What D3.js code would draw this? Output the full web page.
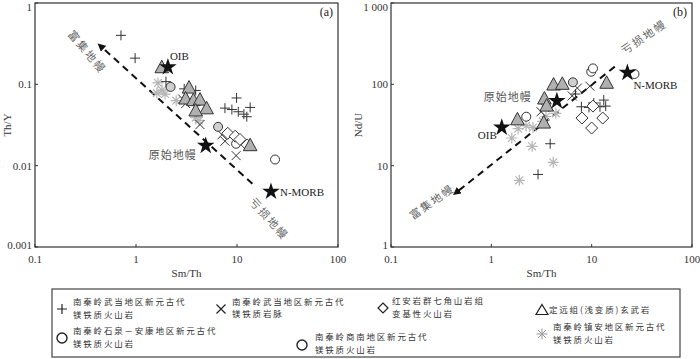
<!DOCTYPE html>
<html>
<head>
<meta charset="utf-8">
<script src="https://cdn.jsdelivr.net/npm/d3@7"></script>
<style>
  body { margin: 0; background: #fff; }
  svg { display: block; font-family: "Liberation Serif", "Noto Sans CJK SC", serif; }
  .tick-label { font-size: 11px; fill: #333; }
  .cn { font-family: "Noto Sans CJK SC", sans-serif; }
</style>
</head>
<body>
<div id="chart"></div>
<script>
// legend categories
var seriesNames = [
  ["南秦岭武当地区新元古代", "镁铁质火山岩"],
  ["南秦岭武当地区新元古代", "镁铁质岩脉"],
  ["红安岩群七角山岩组", "变基性火山岩"],
  ["定远组(浅变质)玄武岩"],
  ["南秦岭石泉－安康地区新元古代", "镁铁质火山岩"],
  ["南秦岭商南地区新元古代", "镁铁质火山岩"],
  ["南秦岭镇安地区新元古代", "镁铁质火山岩"]
];

// panel (a): Sm/Th vs Th/Y
var aPlus = [[0.71,0.40],[0.98,0.21],[1.98,0.108],[3.0,0.088],[3.9,0.084],[9.9,0.068],[7.6,0.051],[8.9,0.049],[10.3,0.046],[11.7,0.043],[13.5,0.052],[12.5,0.040]];
var aCross = [[2.9,0.066],[3.1,0.058],[4.3,0.032],[7.1,0.024],[7.6,0.020],[9.8,0.0133]];
var aDiamond = [[8.1,0.025],[9.6,0.023],[10.7,0.021],[12.6,0.018]];
var aTriangle = [[1.8,0.16],[3.35,0.090],[3.1,0.066],[3.7,0.063],[4.3,0.064],[5.0,0.050],[3.9,0.047],[13.5,0.0176]];
var aGrayCircle = [[6.5,0.030],[2.2,0.093]];
var aOpenCircle = [[23.8,0.0119],[9.8,0.0186]];
var aAsterisk = [[1.65,0.104],[1.81,0.085],[1.61,0.078],[1.94,0.076],[2.5,0.063],[3.9,0.039],[4.2,0.036]];
var aStars = [["OIB",2.07,0.163],["原始地幔",4.9,0.0176],["N-MORB",21.7,0.0048]];
var aTrend = [[14.2,0.006],[0.44,0.30]];

// panel (b): Sm/Th vs Nd/U
var bPlus = [[3.86,18.6],[2.92,7.8],[7.9,53],[9.4,52],[10.5,59],[13.2,64],[13.8,54],[12.1,53],[6.9,76]];
var bCross = [[7.2,90],[9.6,95],[6.4,72],[3.13,46],[3.4,52]];
var bDiamond = [[8.0,38.5],[10.0,29],[12.9,38.5],[10.3,54]];
var bTriangle = [[4.17,98],[5.1,100],[14.1,103],[3.38,66],[3.56,54],[1.82,36.6],[3.33,33.4]];
var bGrayCircle = [[6.5,106]];
var bOpenCircle = [[26.7,134],[9.9,143],[10.3,157],[2.23,40]];
var bAsterisk = [[1.6,21.9],[1.85,28.5],[2.22,31],[2.6,29.5],[2.55,17.3],[4.14,11],[1.9,6.6],[3.5,40],[4.4,44],[3.25,35]];
var bStars = [["OIB",1.27,29.5],["原始地幔",4.5,62.5],["N-MORB",22.7,139]];
var bTrend = [[17,165],[0.44,4.6]];

var xTicks = [0.1, 1, 10, 100];
var xTickLabels = ["0.1", "1", "10", "100"];
var aYTicks = [0.001, 0.01, 0.1, 1];
var aYTickLabels = ["0.001", "0.01", "0.1", "1"];
var bYTicks = [1, 10, 100, 1000];
var bYTickLabels = ["1", "10", "100", "1 000"];

var width = 700, height = 359;
var svg = d3.select("#chart").append("svg")
  .attr("width", width)
  .attr("height", height);

svg.append("defs").append("marker")
  .attr("id", "arrow")
  .attr("viewBox", "0 0 10 10")
  .attr("refX", 6).attr("refY", 5)
  .attr("markerWidth", 4).attr("markerHeight", 4)
  .attr("orient", "auto")
  .append("path")
  .attr("d", "M0,0 L10,5 L0,10 Z")
  .attr("fill", "#111");

// marker shapes
var shapes = {
  plus: "M-5,0H5M0,-5V5",
  cross: "M-4.5,-4.5L4.5,4.5M-4.5,4.5L4.5,-4.5",
  asterisk: "M0,-5.5V5.5M-5.5,0H5.5M-3.9,-3.9L3.9,3.9M-3.9,3.9L3.9,-3.9",
  diamond: "M0,-6L6,0L0,6L-6,0Z",
  triangle: "M0,-7.5L6.8,5L-6.8,5Z"
};

function drawPanel(opt)
{
  var g = svg.append("g");

  var xScale = d3.scaleLog().domain([0.1, 100]).range([opt.left, opt.right]);
  var yScale = d3.scaleLog().domain(opt.yDomain).range([opt.bottom, opt.top]);

  // frame
  g.append("rect")
    .attr("x", opt.left).attr("y", opt.top)
    .attr("width", opt.right - opt.left)
    .attr("height", opt.bottom - opt.top)
    .attr("fill", "none")
    .attr("stroke", "#333")
    .attr("stroke-width", 1.2);

  // ticks (inward)
  g.selectAll(".xt").data(xTicks).enter().append("line")
    .attr("x1", d => xScale(d)).attr("x2", d => xScale(d))
    .attr("y1", opt.bottom).attr("y2", opt.bottom - 3)
    .attr("stroke", "#333");
  g.selectAll(".yt").data(opt.yTicks).enter().append("line")
    .attr("x1", opt.left).attr("x2", opt.left + 3)
    .attr("y1", d => yScale(d)).attr("y2", d => yScale(d))
    .attr("stroke", "#333");

  g.selectAll(".xl").data(xTicks).enter().append("text")
    .attr("class", "tick-label")
    .attr("x", d => xScale(d))
    .attr("y", opt.bottom + 16)
    .attr("text-anchor", "middle")
    .text((d, i) => xTickLabels[i]);

  g.selectAll(".yl").data(opt.yTicks).enter().append("text")
    .attr("class", "tick-label")
    .attr("x", opt.left - 3)
    .attr("y", (d, i) => {
      var y = yScale(d);
      if (i === opt.yTicks.length - 1) y += 4;
      if (i === 0) y -= 2;
      return y;
    })
    .attr("dy", "0.35em")
    .attr("text-anchor", "end")
    .text((d, i) => opt.yTickLabels[i]);

  // axis titles
  g.append("text")
    .attr("x", (opt.left + opt.right) / 2)
    .attr("y", opt.bottom + 30)
    .attr("text-anchor", "middle")
    .attr("font-size", 11)
    .attr("fill", "#333")
    .text("Sm/Th");
  g.append("text")
    .attr("transform", `translate(${opt.yTitleX}, ${(opt.top + opt.bottom) / 2}) rotate(-90)`)
    .attr("text-anchor", "middle")
    .attr("font-size", 11)
    .attr("fill", "#333")
    .text(opt.yTitle);

  g.append("text")
    .attr("x", opt.right - 5)
    .attr("y", opt.top + 13)
    .attr("text-anchor", "end")
    .attr("font-size", 12)
    .attr("fill", "#222")
    .text(opt.tag);

  // trend line
  var line = d3.line().x(d => xScale(d[0])).y(d => yScale(d[1]));
  g.append("path")
    .datum(opt.trend)
    .attr("d", line)
    .attr("fill", "none")
    .attr("stroke", "#111")
    .attr("stroke-width", 2)
    .attr("stroke-dasharray", "7,5")
    .attr("marker-end", "url(#arrow)");

  function pts(data, shape, stroke, fill, sw)
  {
    g.append("g").selectAll("path").data(data).enter().append("path")
      .attr("transform", d => `translate(${xScale(d[0])}, ${yScale(d[1])})`)
      .attr("d", shapes[shape])
      .attr("fill", fill)
      .attr("stroke", stroke)
      .attr("stroke-width", sw);
  }
  function circles(data, fill)
  {
    g.append("g").selectAll("circle").data(data).enter().append("circle")
      .attr("cx", d => xScale(d[0]))
      .attr("cy", d => yScale(d[1]))
      .attr("r", 4.5)
      .attr("fill", fill)
      .attr("stroke", "#333")
      .attr("stroke-width", 1);
  }

  pts(opt.asterisk, "asterisk", "#b5b5b5", "none", 1.2);
  pts(opt.cross, "cross", "#333", "none", 1);
  pts(opt.plus, "plus", "#333", "none", 1);
  circles(opt.openCircle, "#fff");
  circles(opt.grayCircle, "#d0d0d0");
  pts(opt.diamond, "diamond", "#333", "#fff", 1);
  pts(opt.triangle, "triangle", "#333", "#b0b0b0", 1);

  var star = d3.symbol().type(d3.symbolStar).size(95);
  g.append("g").selectAll("path").data(opt.stars).enter().append("path")
    .attr("transform", d => `translate(${xScale(d[1])}, ${yScale(d[2])})`)
    .attr("d", star)
    .attr("fill", "#111");

  g.selectAll(".sl").data(opt.stars).enter().append("text")
    .attr("x", (d, i) => xScale(d[1]) + opt.starLabel[i][0])
    .attr("y", (d, i) => yScale(d[2]) + opt.starLabel[i][1])
    .attr("text-anchor", (d, i) => opt.starLabel[i][2])
    .attr("font-size", 11)
    .attr("fill", (d, i) => i === 1 ? "#555" : "#222")
    .attr("class", (d, i) => i === 1 ? "cn" : null)
    .attr("letter-spacing", (d, i) => i === 1 ? 1 : 0)
    .text(d => d[0]);

  // mantle labels along the trend
  opt.mantle.forEach(m => {
    g.append("text")
      .attr("class", "cn")
      .attr("transform", `translate(${m.x}, ${m.y}) rotate(${m.a})`)
      .attr("text-anchor", "middle")
      .attr("dy", "0.35em")
      .attr("font-size", 11)
      .attr("letter-spacing", 2)
      .attr("fill", "#666")
      .text(m.t);
  });
}

drawPanel({
  left: 35, right: 338, top: 3, bottom: 247,
  yDomain: [0.001, 1], yTicks: aYTicks, yTickLabels: aYTickLabels,
  yTitle: "Th/Y", yTitleX: 11, tag: "(a)",
  plus: aPlus, cross: aCross, diamond: aDiamond, triangle: aTriangle,
  grayCircle: aGrayCircle, openCircle: aOpenCircle, asterisk: aAsterisk,
  stars: aStars, trend: aTrend,
  starLabel: [[2, -7, "start"], [-9, 13, "end"], [9, 4, "start"]],
  mantle: [{t: "富集地幔", x: 87, y: 52, a: 50}, {t: "亏损地幔", x: 269, y: 219, a: 48}]
});

drawPanel({
  left: 391, right: 692, top: 3, bottom: 247,
  yDomain: [1, 1000], yTicks: bYTicks, yTickLabels: bYTickLabels,
  yTitle: "Nd/U", yTitleX: 362, tag: "(b)",
  plus: bPlus, cross: bCross, diamond: bDiamond, triangle: bTriangle,
  grayCircle: bGrayCircle, openCircle: bOpenCircle, asterisk: bAsterisk,
  stars: bStars, trend: bTrend,
  starLabel: [[-5, 12, "end"], [-25, 0, "end"], [6, 16, "start"]],
  mantle: [{t: "亏损地幔", x: 644, y: 37, a: -34}, {t: "富集地幔", x: 432, y: 202, a: -35}]
});

// legend
var legend = svg.append("g");
legend.append("rect")
  .attr("x", 52).attr("y", 289)
  .attr("width", 628).attr("height", 68)
  .attr("fill", "none")
  .attr("stroke", "#444")
  .attr("stroke-width", 1.2);

var legendItems = [
  {shape: "plus", x: 62, y: 309, tx: 73, ty: 302.5},
  {shape: "cross", x: 221, y: 309, tx: 232, ty: 302},
  {shape: "diamond", x: 383, y: 308, tx: 392, ty: 301.5},
  {shape: "triangle", x: 542, y: 310, tx: 549, ty: 310},
  {shape: "grayCircle", x: 62, y: 338, tx: 73, ty: 331.5},
  {shape: "openCircle", x: 302, y: 345, tx: 315, ty: 337.5},
  {shape: "asterisk", x: 542, y: 334, tx: 553, ty: 327.5}
];

legendItems.forEach((item, i) => {
  if (item.shape === "grayCircle" || item.shape === "openCircle")
  {
    legend.append("circle")
      .attr("cx", item.x).attr("cy", item.y).attr("r", 5)
      .attr("fill", "#fff").attr("stroke", "#222").attr("stroke-width", 1.4);
  }
  else
  {
    var s = item.shape === "triangle" ? "M0,-5.5L6,4.5L-6,4.5Z" :
            item.shape === "diamond" ? "M0,-5L5,0L0,5L-5,0Z" : shapes[item.shape];
    legend.append("path")
      .attr("transform", `translate(${item.x}, ${item.y})`)
      .attr("d", s)
      .attr("fill", "none")
      .attr("stroke", item.shape === "asterisk" ? "#999" : "#222")
      .attr("stroke-width", item.shape === "asterisk" ? 1 : 1.2);
  }
  var lines = seriesNames[i];
  lines.forEach((ln, j) => {
    legend.append("text")
      .attr("class", "cn")
      .attr("font-size", 8.5)
      .attr("fill", "#333")
      .attr("letter-spacing", 1.8)
      .attr("x", item.tx)
      .attr("y", item.ty + j * 12.4)
      .attr("dy", "0.35em")
      .text(ln);
  });
});
</script>
</body>
</html>
